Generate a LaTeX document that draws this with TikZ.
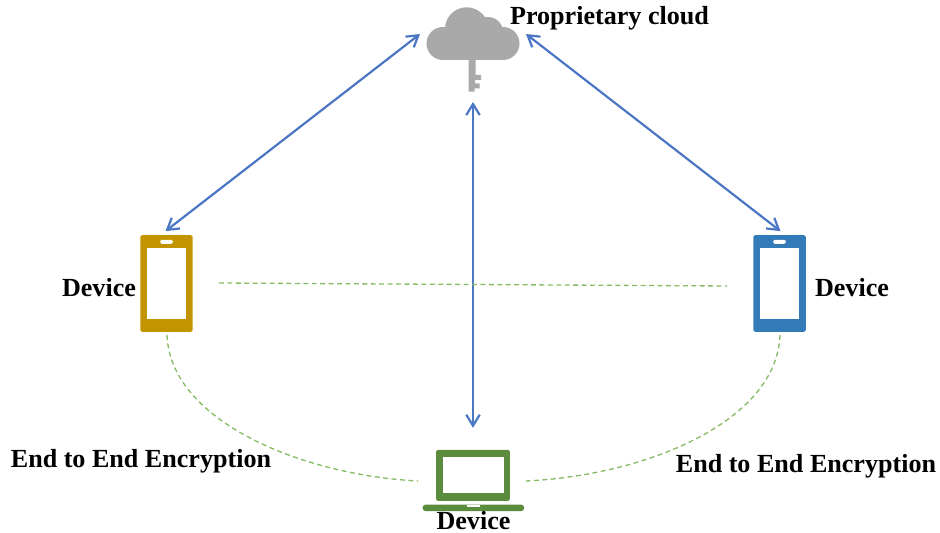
\documentclass[tikz,border=0pt]{standalone}
\usepackage{xcolor}
\usepackage{fontspec}
\setmainfont{Liberation Serif}
\usetikzlibrary{arrows.meta}
\definecolor{phonegold}{HTML}{C29400}
\definecolor{phoneblue}{HTML}{337AB9}
\definecolor{laptopgreen}{HTML}{5B8B3C}
\definecolor{linkblue}{HTML}{4A76C4}
\definecolor{dashgreen}{HTML}{84BB63}
\definecolor{cloudgray}{HTML}{A9A9A9}
\tikzset{
  label/.style={font=\fontsize{14.85pt}{17pt}\selectfont\bfseries, inner sep=0pt},
  body/.style={inner sep=0pt, outer sep=0pt, rounded corners=1pt},
  phone/.style={body, minimum width=1.05cm, minimum height=1.94cm},
  phonescreen/.style={inner sep=0pt, fill=white, minimum width=0.79cm, minimum height=1.41cm},
  phonespeaker/.style={inner sep=0pt, fill=white, rounded corners=0.8pt, minimum width=0.25cm, minimum height=0.08cm},
  biarrow/.style={<->, >={Straight Barb[length=2.2mm,width=2.7mm]}, linkblue, line width=1.25pt},
  e2e/.style={dash pattern=on 2.8pt off 2pt, dashgreen, line width=0.75pt}
}
\begin{document}
\begin{tikzpicture}[x=0.02cm,y=-0.02cm]
\useasboundingbox (0,0) rectangle (940,533);

% Cloud and key
\fill[cloudgray] (443,43.5) circle[radius=16.5];
\fill[cloudgray] (466.7,29) circle[radius=21.7];
\fill[cloudgray] (488,32) circle[radius=15];
\fill[cloudgray] (503,43.5) circle[radius=16.5];
\fill[cloudgray] (443,36) rectangle (503,60);
\fill[cloudgray] (468.5,58) -- (475.5,58) -- (475.5,75) -- (481,75) -- (481,80) -- (475,80)
  -- (475,83.5) -- (479.5,83.5) -- (479.5,88.5) -- (474.5,88.5) -- (474.5,91.7) -- (468.5,91.7) -- cycle;
\node[inner sep=0pt, minimum width=0.93cm, minimum height=0.66cm] (cloud) at (473,43.5) {};
\coordinate (cloudL) at (420,34);
\coordinate (cloudR) at (526,34);
\coordinate (key) at (473,102);

% Phones
\node[phone, fill=phonegold] (phoneL) at (166.5,283.5) {};
\node[phonescreen] at (166.5,283.5) {};
\node[phonespeaker] at (166.5,241.8) {};
\node[phone, fill=phoneblue] (phoneR) at (779.5,283.5) {};
\node[phonescreen] at (779.5,283.5) {};
\node[phonespeaker] at (779.5,241.8) {};

% Laptop
\node[body, fill=laptopgreen, minimum width=1.48cm, minimum height=1.02cm] (laptop) at (473,475.3) {};
\node[inner sep=0pt, fill=white, minimum width=1.23cm, minimum height=0.73cm] at (473.5,475) {};
\fill[laptopgreen, rounded corners=1.5pt] (422.7,504.7) -- (524,504.7) -- (524,511) -- (422.7,511) -- cycle;
\fill[white] (466.7,504.7) rectangle (480,506.6);

% Links to the cloud
\draw[biarrow, shorten >=3.6pt] (cloudL) -- ([xshift=-0.12cm]phoneL.north);
\draw[biarrow, shorten >=3.6pt] (cloudR) -- ([xshift=0.12cm]phoneR.north);
\draw[biarrow, shorten >=0.44cm] (key) -- (laptop.north);

% End to end links
\coordinate (laptopL) at (418,481);
\coordinate (laptopR) at (526,481);
\coordinate (phoneLs) at (167,335);
\coordinate (phoneRs) at (780,335);
\coordinate (midL) at (219,283);
\coordinate (midR) at (727,286);
\draw[e2e] (midL) -- (midR);
\draw[e2e] (phoneLs) .. controls (170,420) and (300,475) .. (laptopL);
\draw[e2e] (phoneRs) .. controls (777,420) and (650,475) .. (laptopR);

% Labels
\node[label] (cloudlabel) at (609.5,18.5) {Proprietary cloud};
\node[label] (devL) at (99,288) {Device};
\node[label] (devR) at (852,288) {Device};
\node[label] (devB) at (473.5,521) {Device};
\node[label] (e2eL) at (141,461.5) {End to End Encryption};
\node[label] (e2eR) at (806,466.5) {End to End Encryption};
\end{tikzpicture}
\end{document}
